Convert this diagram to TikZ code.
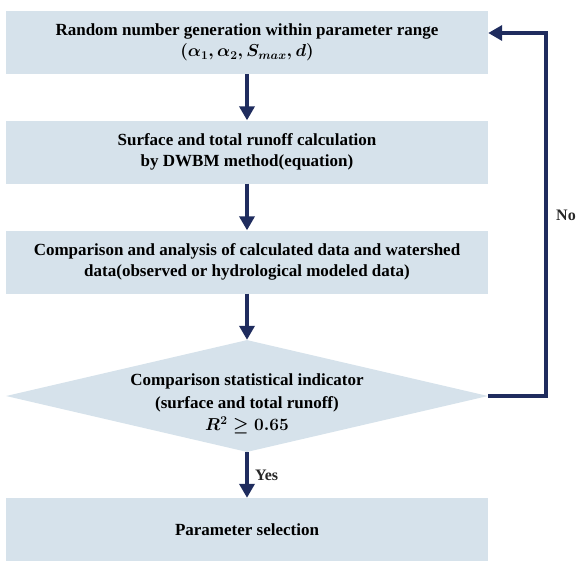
\documentclass[tikz,border=0pt]{standalone}
\usepackage{amsmath,amssymb}
\usepackage{fontspec}
\setmainfont{Liberation Serif}
\usepackage{tikz}
\usetikzlibrary{positioning}
\usetikzlibrary{calc}
\usetikzlibrary{arrows.meta}
\usetikzlibrary{shapes.geometric}

\definecolor{boxfill}{RGB}{214,226,235}
\definecolor{navy}{RGB}{31,44,94}

\begin{document}
\begin{tikzpicture}[
            x=1pt,
            y=-1pt,
            box/.style={
                rectangle,
                fill=boxfill,
                minimum width=482pt,
                minimum height=63pt,
                inner sep=0pt,
                align=center,
                font=\fontsize{17}{21}\selectfont\bfseries
            },
            decision/.style={
                diamond,
                fill=boxfill,
                minimum width=482pt,
                minimum height=112pt,
                inner sep=0pt
            },
            txt/.style={
                align=center,
                font=\fontsize{17}{22.5}\selectfont\bfseries
            },
            flow/.style={
                draw=navy,
                line width=4pt,
                -{Triangle[width=15pt,length=14pt]}
            },
            lab/.style={
                font=\fontsize{16}{20}\selectfont\bfseries,
                text=black!85,
                inner sep=1pt
            }
        ]

            \useasboundingbox (0,0) rectangle (578,560);

            % Process boxes
            \node[box] (gen) at (247,42.5) {Random number generation within parameter range\\
                {\boldmath$(\alpha_1,\alpha_2,S_{max},d)$}};
            \node[box] (runoff) at (247,152) {Surface and total runoff calculation\\by DWBM method(equation)};
            \node[box] (comp) at (247,262) {Comparison and analysis of calculated data and watershed\\data(observed or hydrological modeled data)};

            % Decision
            \node[decision] (dec) at (247,396) {};
            \node[txt] (dectxt) at (247,404) {Comparison statistical indicator\\(surface and total runoff)\\
                {\boldmath$R^2\geq 0.65$}};

            % Result
            \node[box] (sel) at (247,529.5) {Parameter selection};

            % Main flow
            \draw[flow] (gen) -- (runoff);
            \draw[flow] (runoff) -- (comp);
            \draw[flow] (comp) -- (dec);
            \draw[flow] (dec) -- node[lab, right=5pt] (yes) {Yes} (sel);

            % Feedback loop
            \coordinate (loop) at (546,33);
            \draw[flow, line join=miter] (dec.east) -| (loop) -- (loop -| gen.east);
            \node[lab, anchor=west] (no) at (555,215) {No};

        \end{tikzpicture}
\end{document}
